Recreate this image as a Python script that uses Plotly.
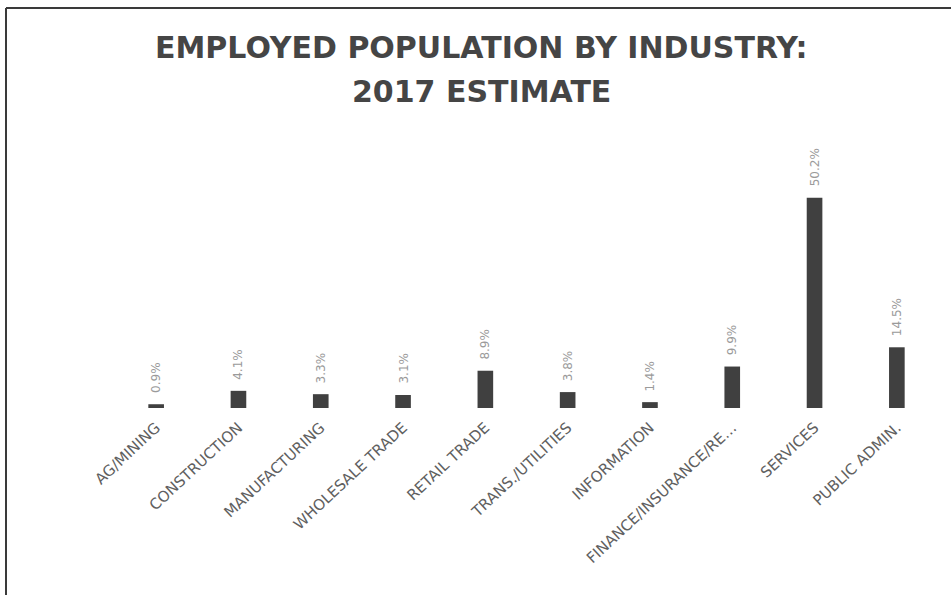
import plotly.graph_objects as go

# Employed population shares by industry, 2017 estimate (percent)
industries = [
    "AG/MINING",
    "CONSTRUCTION",
    "MANUFACTURING",
    "WHOLESALE TRADE",
    "RETAIL TRADE",
    "TRANS./UTILITIES",
    "INFORMATION",
    "FINANCE/INSURANCE/RE…",
    "SERVICES",
    "PUBLIC ADMIN.",
]
shares = [0.9, 4.1, 3.3, 3.1, 8.9, 3.8, 1.4, 9.9, 50.2, 14.5]
value_labels = [f"{v}%" for v in shares]

title_lines = ["EMPLOYED POPULATION BY INDUSTRY:", "2017 ESTIMATE"]

W, H = 951, 595
ML, MR, MT, MB = 115, 13, 140, 187
plot_w = W - ML - MR
plot_h = H - MT - MB

FONT = "DejaVu Sans"

fig = go.Figure()
fig.add_trace(
    go.Bar(
        x=industries,
        y=shares,
        width=0.19,
        marker=dict(color="#404040", line=dict(width=0)),
        hoverinfo="x+y",
    )
)

annotations = []
for cat, v, lab in zip(industries, shares, value_labels):
    annotations.append(
        dict(
            x=cat, y=v, xref="x", yref="y",
            text=lab, textangle=-90, showarrow=False,
            xanchor="center", yanchor="bottom", yshift=9,
            font=dict(family=FONT, size=12, color="#9a9a9a"),
        )
    )


def px_to_paper_x(px):
    return (px - ML) / plot_w


def px_to_paper_y(py):
    return (H - MB - py) / plot_h


title_x = px_to_paper_x(481)
for line, ypx in zip(title_lines, [47, 92]):
    annotations.append(
        dict(
            x=title_x, y=px_to_paper_y(ypx), xref="paper", yref="paper",
            text=line, showarrow=False, xanchor="center", yanchor="middle",
            font=dict(family=FONT, size=30, color="#454545", weight="bold"),
        )
    )

# chart frame: top and left border lines
frame_left = px_to_paper_x(6)
frame_top = px_to_paper_y(8)
shapes = [
    dict(type="line", xref="paper", yref="paper",
         x0=frame_left, x1=px_to_paper_x(W + 5), y0=frame_top, y1=frame_top,
         line=dict(color="#3a3a3a", width=2)),
    dict(type="line", xref="paper", yref="paper",
         x0=frame_left, x1=frame_left, y0=frame_top, y1=px_to_paper_y(H + 5),
         line=dict(color="#3a3a3a", width=2)),
]

fig.update_layout(
    width=W, height=H,
    margin=dict(l=ML, r=MR, t=MT, b=MB, pad=0),
    paper_bgcolor="white", plot_bgcolor="white",
    showlegend=False,
    bargap=0.8,
    annotations=annotations,
    shapes=shapes,
    xaxis=dict(
        tickangle=-43,
        tickfont=dict(family=FONT, size=15, color="#606060"),
        ticks="outside", ticklen=4, tickcolor="rgba(0,0,0,0)",
        showline=False, showgrid=False, zeroline=False,
        fixedrange=True,
    ),
    yaxis=dict(
        range=[0, 64],
        visible=False,
        fixedrange=True,
    ),
)

fig.write_html("out.html")
